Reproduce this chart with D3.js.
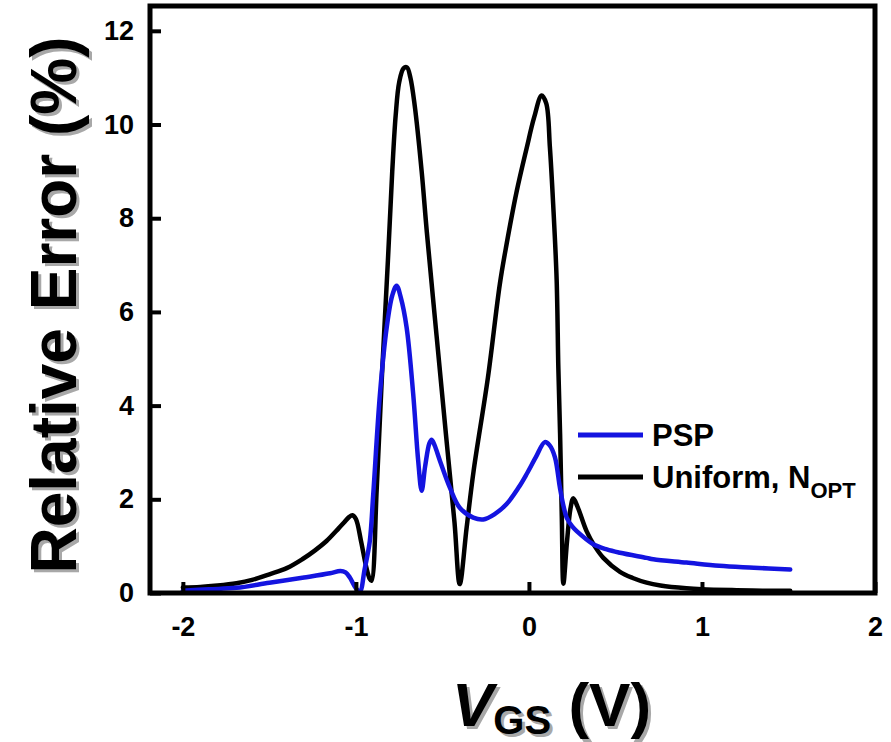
<!DOCTYPE html>
<html><head><meta charset="utf-8">
<script src="https://cdn.jsdelivr.net/npm/d3@7"></script>
<style>
html,body{margin:0;padding:0;background:#fff;}
svg{display:block;font-family:"Liberation Sans",Arial,sans-serif;font-weight:bold;}
</style></head>
<body>
<svg id="chart" width="891" height="742"></svg>
<script>
// ---- data ----
const uniformX = [-2.00,-1.90,-1.80,-1.69,-1.60,-1.50,-1.40,-1.31,-1.24,-1.17,-1.10,-1.07,-1.04,-1.02,-1.00,-0.97,-0.94,-0.92,-0.91,-0.88,-0.85,-0.815,-0.79,-0.77,-0.75,-0.725,-0.705,-0.685,-0.66,-0.62,-0.59,-0.534,-0.48,-0.43,-0.40,-0.36,-0.32,-0.237,-0.168,-0.129,-0.071,-0.013,0.03,0.073,0.10,0.121,0.14,0.16,0.17,0.18,0.19,0.199,0.22,0.24,0.256,0.28,0.333,0.38,0.43,0.526,0.60,0.68,0.76,0.91,1.00,1.20,1.35,1.51];
const uniformY = [0.12,0.13,0.16,0.21,0.28,0.40,0.53,0.72,0.90,1.11,1.38,1.50,1.62,1.66,1.58,1.10,0.55,0.30,0.26,2.2,4.6,7.1,9.0,10.2,10.9,11.2,11.22,11.0,10.4,9.0,7.7,5.5,3.4,1.5,0.19,1.4,2.6,4.6,6.6,7.45,8.57,9.5,10.15,10.62,10.45,9.52,8.3,6.7,4.8,3.4,1.6,0.2,1.1,1.8,2.02,1.85,1.32,1.0,0.75,0.45,0.32,0.22,0.16,0.10,0.08,0.06,0.05,0.05];
const pspX = [-2.00,-1.85,-1.69,-1.50,-1.30,-1.15,-1.09,-1.06,-1.035,-1.00,-0.977,-0.95,-0.92,-0.90,-0.861,-0.822,-0.79,-0.765,-0.74,-0.707,-0.669,-0.64,-0.62,-0.60,-0.575,-0.562,-0.545,-0.514,-0.457,-0.40,-0.322,-0.264,-0.20,-0.129,-0.06,-0.013,0.04,0.092,0.12,0.15,0.179,0.20,0.218,0.25,0.276,0.372,0.45,0.526,0.68,0.719,0.91,1.10,1.30,1.51];
const pspY = [0.05,0.08,0.11,0.22,0.33,0.42,0.47,0.44,0.33,0.10,0.03,0.5,1.1,2.1,4.25,5.67,6.35,6.56,6.3,5.67,4.25,2.82,2.18,2.7,3.2,3.27,3.15,2.82,2.25,1.82,1.61,1.57,1.68,1.90,2.25,2.54,2.9,3.22,3.15,2.9,2.25,1.85,1.61,1.42,1.32,1.04,0.93,0.86,0.75,0.72,0.65,0.58,0.54,0.50];
const xTicks = [-2,-1,0,1,2];
const yTicks = [0,2,4,6,8,10,12];
const seriesNames = ["PSP","Uniform, N"];
const seriesSub = ["","OPT"];
const seriesColors = ["#1414e0","#000000"];

// ---- layout ----
const svg = d3.select("#chart");
const L = 150, R = 875, T = 6, B = 593;
const x = d3.scaleLinear().domain([-2.19, 2]).range([L, R]);
const y = d3.scaleLinear().domain([0, 12.53]).range([B, T]);

const line = d3.line().x(d => x(d[0])).y(d => y(d[1])).curve(d3.curveCatmullRom.alpha(0.5));
const uni = uniformX.map((v,i)=>[v, uniformY[i]]);
const psp = pspX.map((v,i)=>[v, pspY[i]]);

const plot = svg.append("g");
plot.append("path").datum(uni).attr("d", line)
  .attr("fill","none").attr("stroke",seriesColors[1]).attr("stroke-width",4.5)
  .attr("stroke-linejoin","round").attr("stroke-linecap","round");
plot.append("path").datum(psp).attr("d", line)
  .attr("fill","none").attr("stroke",seriesColors[0]).attr("stroke-width",4.5)
  .attr("stroke-linejoin","round").attr("stroke-linecap","round");

// frame
svg.append("rect").attr("x",L).attr("y",T).attr("width",R-L).attr("height",B-T)
  .attr("fill","none").attr("stroke","#000").attr("stroke-width",5);

// axes (inward ticks)
const xAxis = d3.axisBottom(x).tickValues(xTicks).tickSizeInner(-11).tickSizeOuter(0).tickPadding(24).tickFormat(d3.format("d"));
const gx = svg.append("g").attr("transform",`translate(0,${B})`).call(xAxis);
gx.select(".domain").remove();
gx.selectAll(".tick line").attr("stroke","#000").attr("stroke-width",4);
gx.selectAll(".tick text").attr("font-size",27).attr("font-weight","bold").attr("fill","#000")
  .attr("font-family","Liberation Sans, Arial, sans-serif").text(d => d < 0 ? "-" + Math.abs(d) : d);

const yAxis = d3.axisLeft(y).tickValues(yTicks).tickSizeInner(-11).tickSizeOuter(0).tickPadding(16).tickFormat(d3.format("d"));
const gy = svg.append("g").attr("transform",`translate(${L},0)`).call(yAxis);
gy.select(".domain").remove();
gy.selectAll(".tick line").attr("stroke","#000").attr("stroke-width",4);
gy.selectAll(".tick text").attr("font-size",27).attr("font-weight","bold").attr("fill","#000")
  .attr("font-family","Liberation Sans, Arial, sans-serif");

// axis titles with shadow
function yTitle(dx, dy, color){
  svg.append("text").attr("transform",`translate(${76+dx},${305+dy}) rotate(-90)`)
    .attr("text-anchor","middle").attr("font-size",64).attr("fill",color)
    .text("Relative Error (%)");
}
yTitle(3,3,"#a8a8a8"); yTitle(0,0,"#000");

function xTitle(dx, dy, color){
  const t = svg.append("text").attr("x",452+dx).attr("y",726+dy).attr("fill",color).attr("font-size",62);
  t.append("tspan").attr("font-style","italic").text("V");
  t.append("tspan").attr("font-size",40).attr("dy",8).text("GS");
  t.append("tspan").attr("dy",-8).text(" (V)");
}
xTitle(3,3,"#a8a8a8"); xTitle(0,0,"#000");

// legend
const legY = [435, 477];
seriesNames.forEach((n,i)=>{
  svg.append("line").attr("x1",578).attr("x2",643).attr("y1",legY[i]).attr("y2",legY[i])
    .attr("stroke",seriesColors[i]).attr("stroke-width",5);
  const t = svg.append("text").attr("x",652).attr("y",legY[i]+10.5).attr("font-size",31).attr("fill","#000");
  t.append("tspan").text(n);
  if (seriesSub[i]) t.append("tspan").attr("font-size",22).attr("dy",10).text(seriesSub[i]);
});
</script>
</body></html>
